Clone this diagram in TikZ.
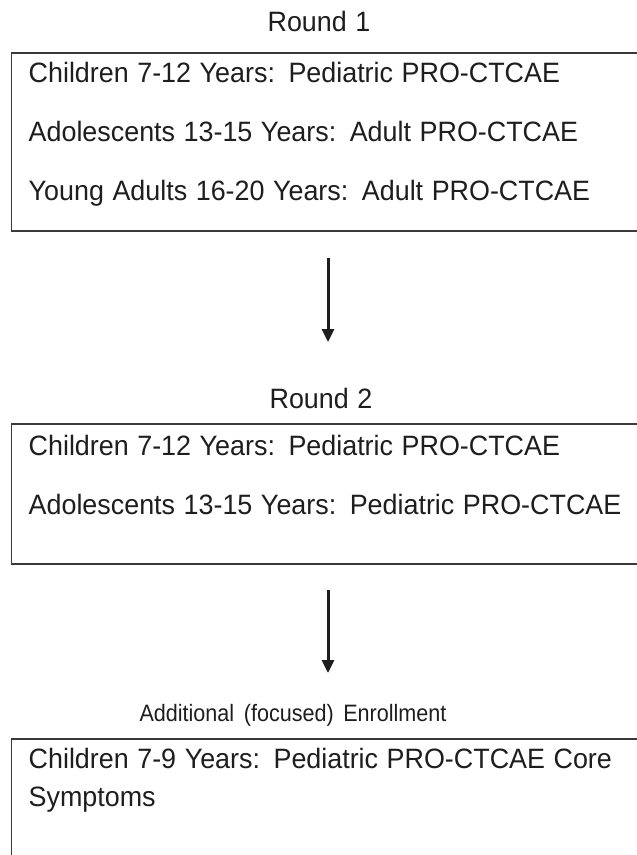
\documentclass[tikz,border=0pt]{standalone}
\usepackage{fontspec}
\setmainfont[FakeStretch=0.96,WordSpace=1.15]{Liberation Sans}
\newfontfamily\narrowfont[FakeStretch=0.91,WordSpace=1.6]{Liberation Sans}
\usetikzlibrary{arrows.meta}
\definecolor{ink}{HTML}{1E1E1E}
\definecolor{frame}{HTML}{3A3A3A}
\newcommand{\colgap}{\ \hspace{5pt}}
\begin{document}
\begin{tikzpicture}[x=1pt,y=-1pt,
  title/.style={anchor=base,inner sep=0pt,text=ink,font=\fontsize{28}{32}\selectfont},
  smalltitle/.style={anchor=base,inner sep=0pt,text=ink,font=\narrowfont\fontsize{23.7}{28}\selectfont},
  entry/.style={anchor=base west,inner sep=0pt,text=ink,font=\fontsize{28}{32}\selectfont},
  panel/.style={draw=frame,line width=1.7pt,anchor=north west,inner sep=0pt},
  flow/.style={draw=ink,line width=3pt,-{Triangle[width=12pt,length=13pt]}}]
\clip (0,0) rectangle (637,855);
\fill[white] (0,0) rectangle (637,855);
% Round 1
\node[title] (t1) at (319,31) {Round 1};
\node[panel,minimum width=640pt,minimum height=178pt] (box1) at (10.5,52) {};
\node[entry] (l11) at (28.5,82) {Children 7-12 Years:\colgap Pediatric PRO-CTCAE};
\node[entry] (l12) at (28.5,141) {Adolescents 13-15 Years:\colgap Adult PRO-CTCAE};
\node[entry] (l13) at (28.5,200) {Young Adults 16-20 Years:\colgap Adult PRO-CTCAE};
% arrow 1
\coordinate (a1s) at (328,258);
\coordinate (a1e) at (328,342);
\draw[flow] (a1s) -- (a1e);
% Round 2
\node[title] (t2) at (321,408) {Round 2};
\node[panel,minimum width=640pt,minimum height=140pt] (box2) at (10.5,423) {};
\node[entry] (l21) at (28.5,455) {Children 7-12 Years:\colgap Pediatric PRO-CTCAE};
\node[entry] (l22) at (28.5,514) {Adolescents 13-15 Years:\colgap Pediatric PRO-CTCAE};
% arrow 2
\coordinate (a2s) at (328,590);
\coordinate (a2e) at (328,673);
\draw[flow] (a2s) -- (a2e);
% Additional
\node[smalltitle] (t3) at (293,721) {Additional (focused) Enrollment};
\node[panel,minimum width=640pt,minimum height=140pt] (box3) at (10.5,738) {};
\node[entry] (l31) at (28.5,768) {Children 7-9 Years:\colgap Pediatric PRO-CTCAE Core};
\node[entry] (l32) at (28.5,806) {Symptoms};
\end{tikzpicture}
\end{document}
